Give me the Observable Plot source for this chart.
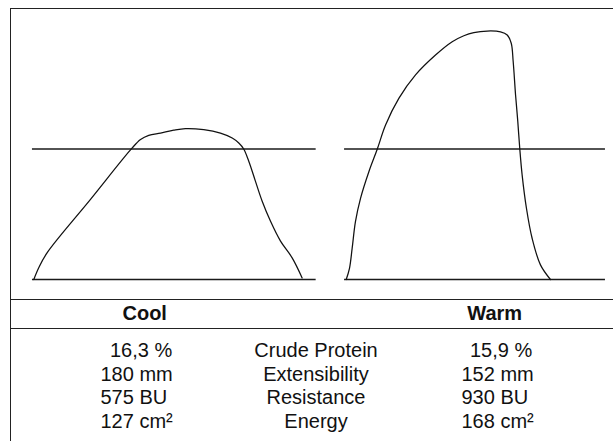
<!DOCTYPE html>
<html>
<head>
<meta charset="utf-8">
<script src="https://cdn.jsdelivr.net/npm/d3@7"></script>
<script src="https://cdn.jsdelivr.net/npm/@observablehq/plot@0.6"></script>
<style>
  html, body { margin: 0; padding: 0; background: #fff; }
  #page { position: relative; width: 613px; height: 441px; overflow: hidden;
          font-family: "Liberation Sans", Arial, sans-serif; color: #111; }
  #chart { position: absolute; left: 11px; top: 9px; }
  #frame { position: absolute; left: 10px; top: 7.5px; width: 620px; height: 450px;
           border-left: 1.3px solid #222; border-top: 1.3px solid #222; box-sizing: border-box; }
  #head { position: absolute; left: 10px; top: 299px; width: 620px; height: 29.6px;
          border-top: 1.3px solid #222; border-bottom: 1.3px solid #222; box-sizing: border-box; }
  .hd { position: absolute; top: 302.5px; font-weight: bold; font-size: 20px; line-height: 20px;
        transform: translateX(-50%); white-space: nowrap; }
  .col { position: absolute; top: 339px; font-size: 20px; line-height: 23.6px; white-space: nowrap; }
  .col div:first-child.ind { padding-left: 9px; }
  #mid { transform: translateX(-50%); text-align: center; }
</style>
</head>
<body>
<div id="page">
  <div id="chart"></div>
  <div id="frame"></div>
  <div id="head"></div>
</div>
<script>
// ---- data (extensograms) ----
const panels = ["Cool", "Warm"];

// Cool curve: extension (mm) vs resistance (BU)
const coolMm = [0, 3.4, 9.0, 37.9, 66.0, 71.6, 77.1, 85.0, 93.9, 101.7, 114.0, 125.2, 133.1, 137.5, 140.8, 144.2, 148.7, 153.2, 158.8, 165.5, 173.3, 180];
const coolBU = [0, 46, 103, 306, 504, 536, 552, 561, 572, 578, 574, 561, 542, 523, 500, 453, 376, 300, 223, 147, 83, 6];

// Warm curve
const warmMm = [0, 2.2, 4.0, 6.2, 9.6, 15.2, 20.8, 26.4, 35.3, 46.5, 59.9, 71.1, 78.9, 85.6, 94.6, 103.5, 108.0, 110.7, 112.0, 113.6, 115.1, 116.4, 118.0, 120.9, 124.7, 130.3, 137.0];
const warmBU = [0, 43, 120, 222, 311, 413, 499, 592, 694, 784, 860, 911, 934, 946, 952, 949, 937, 905, 835, 707, 605, 503, 401, 273, 158, 56, 0];

// reference lines (baseline and 500 BU line) extents per panel
const refLevels = [0, 500];
const refFrom = [-0.9, -1.1];
const refTo = [189.4, 173.9];

// table
const properties = ["Crude Protein", "Extensibility", "Resistance", "Energy"];
const coolValues = ["16,3 %", "180 mm", "575 BU", "127 cm²"];
const warmValues = ["15,9 %", "152 mm", "930 BU", "168 cm²"];

// ---- build ----
const curves = [
  ...coolMm.map((mm, i) => ({panel: panels[0], mm, bu: coolBU[i]})),
  ...warmMm.map((mm, i) => ({panel: panels[1], mm, bu: warmBU[i]}))
];
const refs = panels.flatMap((panel, i) => refLevels.map(level => ({panel, level, from: refFrom[i], to: refTo[i]})));

const M = {marginTop: 9, marginBottom: 20, marginLeft: 22.3, marginRight: 6.4};
const chart = Plot.plot({
  width: 602,
  height: 290,
  ...M,
  facet: {...M},
  style: {background: "transparent", overflow: "visible"},
  fx: {domain: panels, paddingInner: 0.1649, paddingOuter: 0, round: false, axis: null},
  x: {domain: [0, 175], axis: null},
  y: {domain: [0, 1000], axis: null},
  marks: [
    Plot.ruleY(refs, {fx: "panel", y: "level", x1: "from", x2: "to", stroke: "#1a1a1a", strokeWidth: 1.3}),
    Plot.line(curves, {fx: "panel", x: "mm", y: "bu", z: "panel", curve: "catmull-rom", stroke: "#111", strokeWidth: 1.25})
  ]
});
document.getElementById("chart").appendChild(chart);

const page = document.getElementById("page");
function header(text, cx) {
  const d = document.createElement("div");
  d.className = "hd";
  d.style.left = cx + "px";
  d.textContent = text;
  page.appendChild(d);
}
header(panels[0], 144.7);
header(panels[1], 494.7);

function column(values, left, id, indentFirst) {
  const c = document.createElement("div");
  c.className = "col";
  if (id) c.id = id;
  c.style.left = left + "px";
  values.forEach((v, i) => {
    const r = document.createElement("div");
    r.textContent = v;
    if (i === 0 && indentFirst) r.style.paddingLeft = indentFirst + "px";
    c.appendChild(r);
  });
  page.appendChild(c);
}
column(coolValues, 100.5, null, 9.5);
column(properties, 316, "mid", 0);
column(warmValues, 461.5, null, 8.5);
</script>
</body>
</html>
